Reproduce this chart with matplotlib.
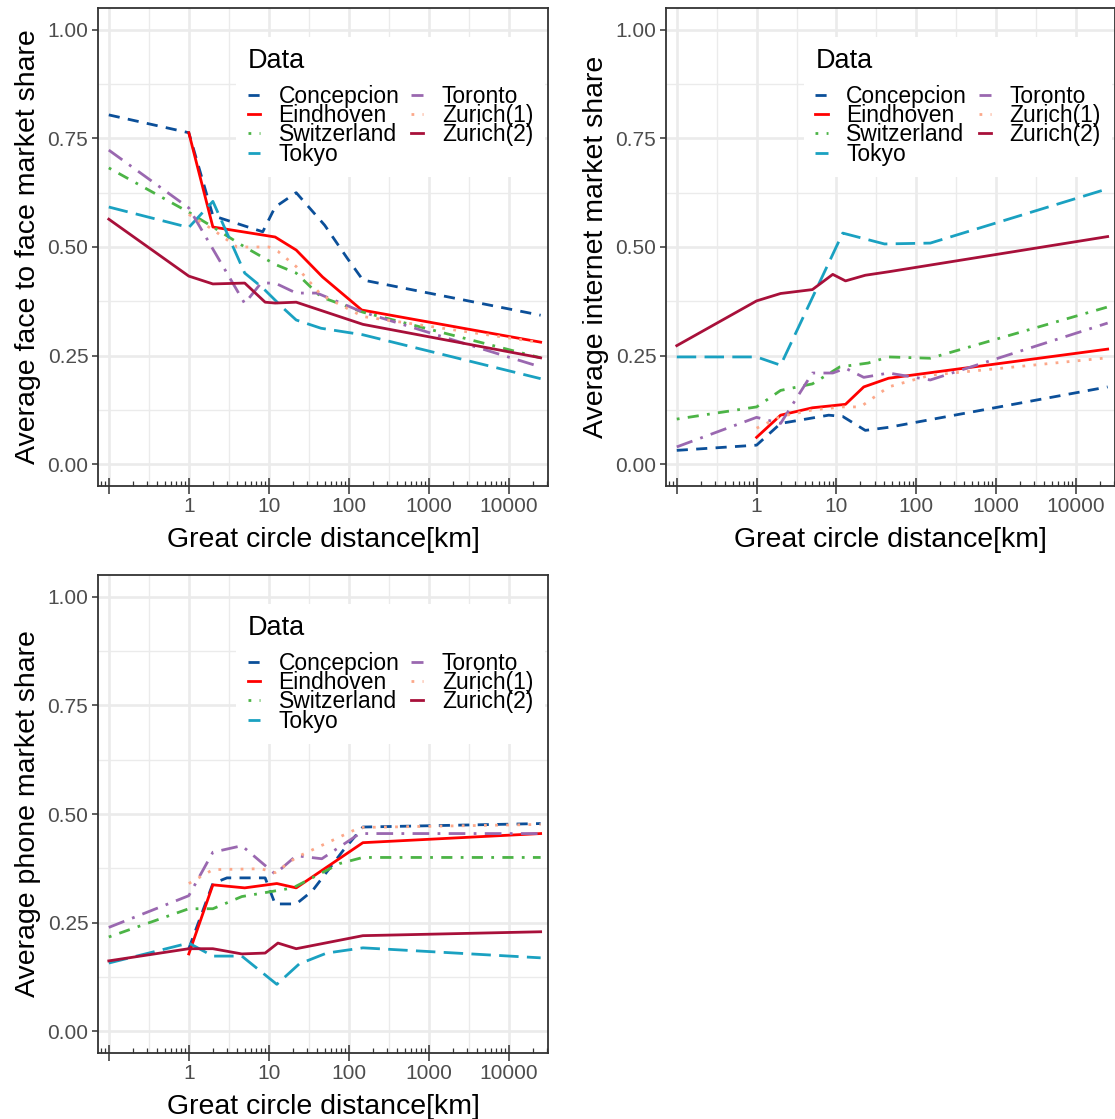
import matplotlib
matplotlib.use('Agg')
import matplotlib.pyplot as plt
from matplotlib.ticker import FixedLocator, LogLocator, NullFormatter, MultipleLocator

plt.rcParams['font.family'] = ['Liberation Sans', 'DejaVu Sans']

cities = ['Concepcion', 'Eindhoven', 'Switzerland', 'Tokyo', 'Toronto', 'Zurich(1)', 'Zurich(2)']

colors = {
    'Concepcion': '#0B4F99',
    'Eindhoven': '#FF0000',
    'Switzerland': '#4CB446',
    'Tokyo': '#1AA1C1',
    'Toronto': '#9A68B0',
    'Zurich(1)': '#FCA88A',
    'Zurich(2)': '#A8103A',
}
dashes = {
    'Concepcion': (0, (4, 3)),
    'Eindhoven': '-',
    'Switzerland': (0, (1, 3, 4, 3)),
    'Tokyo': (0, (7, 3)),
    'Toronto': (0, (6, 3, 1, 3)),
    'Zurich(1)': (0, (1, 3)),
    'Zurich(2)': '-',
}

# face to face
face_dist = {
    'Concepcion': [0.1, 1, 2, 8.4, 12, 22, 50, 95, 150, 25000],
    'Eindhoven': [1, 2, 12, 22, 47, 145, 25000],
    'Switzerland': [0.1, 1, 2, 5, 12, 22, 45, 150, 25000],
    'Tokyo': [0.1, 1, 2, 2.5, 5, 8.5, 15, 22, 45, 150, 25000],
    'Toronto': [0.1, 1, 5, 8, 12, 22, 40, 150, 25000],
    'Zurich(1)': [1, 2, 4, 10, 13, 22, 45, 150, 25000],
    'Zurich(2)': [0.1, 1, 2, 5, 9, 12, 22, 150, 25000],
}
face_share = {
    'Concepcion': [0.804, 0.763, 0.572, 0.535, 0.592, 0.625, 0.55, 0.475, 0.424, 0.343],
    'Eindhoven': [0.763, 0.546, 0.523, 0.493, 0.431, 0.355, 0.281],
    'Switzerland': [0.682, 0.58, 0.546, 0.5, 0.46, 0.44, 0.385, 0.35, 0.245],
    'Tokyo': [0.592, 0.545, 0.605, 0.565, 0.44, 0.405, 0.36, 0.332, 0.313, 0.298, 0.197],
    'Toronto': [0.723, 0.59, 0.37, 0.417, 0.417, 0.394, 0.394, 0.35, 0.224],
    'Zurich(1)': [0.575, 0.54, 0.50, 0.50, 0.49, 0.455, 0.39, 0.34, 0.28],
    'Zurich(2)': [0.564, 0.433, 0.415, 0.417, 0.373, 0.371, 0.373, 0.322, 0.245],
}

# internet
net_dist = {
    'Concepcion': [0.1, 1, 2, 8, 12, 23, 45, 25000],
    'Eindhoven': [1, 2, 5, 13, 22, 45, 25000],
    'Switzerland': [0.1, 1, 2, 5, 11, 25, 45, 150, 25000],
    'Tokyo': [0.1, 1, 2, 12, 40, 150, 25000],
    'Toronto': [0.1, 1, 2, 5, 9, 13, 22, 45, 150, 25000],
    'Zurich(1)': [1, 2, 5, 12, 20, 45, 150, 25000],
    'Zurich(2)': [0.1, 1, 2, 5, 9, 13, 23, 45, 25000],
}
net_share = {
    'Concepcion': [0.032, 0.044, 0.094, 0.113, 0.11, 0.078, 0.085, 0.178],
    'Eindhoven': [0.062, 0.113, 0.13, 0.138, 0.178, 0.198, 0.265],
    'Switzerland': [0.104, 0.132, 0.17, 0.185, 0.224, 0.233, 0.247, 0.244, 0.362],
    'Tokyo': [0.247, 0.247, 0.228, 0.532, 0.507, 0.509, 0.634],
    'Toronto': [0.04, 0.108, 0.094, 0.21, 0.21, 0.221, 0.2, 0.21, 0.194, 0.325],
    'Zurich(1)': [0.083, 0.11, 0.125, 0.132, 0.132, 0.178, 0.205, 0.245],
    'Zurich(2)': [0.273, 0.376, 0.393, 0.402, 0.437, 0.422, 0.435, 0.443, 0.524],
}

# phone
phone_dist = {
    'Concepcion': [1, 2, 3, 9, 12, 22, 35, 85, 150, 25000],
    'Eindhoven': [1, 2, 5, 12.6, 22, 150, 25000],
    'Switzerland': [0.1, 1, 2, 4.6, 12, 20, 77, 150, 25000],
    'Tokyo': [0.1, 1, 2, 4.6, 12.6, 24, 53, 150, 25000],
    'Toronto': [0.1, 1, 2, 4.6, 12, 22, 46, 137, 25000],
    'Zurich(1)': [1, 2, 8, 12, 22, 137, 25000],
    'Zurich(2)': [0.1, 1, 2, 4.6, 9, 13, 22, 150, 25000],
}
phone_share = {
    'Concepcion': [0.19, 0.34, 0.353, 0.353, 0.293, 0.293, 0.323, 0.416, 0.47, 0.478],
    'Eindhoven': [0.178, 0.337, 0.33, 0.34, 0.33, 0.434, 0.455],
    'Switzerland': [0.217, 0.282, 0.282, 0.31, 0.323, 0.33, 0.386, 0.4, 0.4],
    'Tokyo': [0.157, 0.203, 0.173, 0.173, 0.108, 0.155, 0.18, 0.192, 0.169],
    'Toronto': [0.239, 0.312, 0.412, 0.427, 0.362, 0.404, 0.397, 0.455, 0.455],
    'Zurich(1)': [0.34, 0.372, 0.374, 0.365, 0.40, 0.469, 0.476],
    'Zurich(2)': [0.162, 0.19, 0.19, 0.178, 0.18, 0.203, 0.19, 0.22, 0.229],
}

x_ticks = [0.1, 1, 10, 100, 1000, 10000]
x_ticklabels = ['', '1', '10', '100', '1000', '10000']
y_ticks = [0, 0.25, 0.5, 0.75, 1.0]
y_ticklabels = ['0.00', '0.25', '0.50', '0.75', '1.00']

W, H = 1115, 1119
fig = plt.figure(figsize=(W / 100, H / 100), dpi=100)

panels = [
    ([98, 8, 450, 478], face_dist, face_share, 'Average face to face market share'),
    ([666, 8, 449, 478], net_dist, net_share, 'Average internet market share'),
    ([98, 575, 450, 478], phone_dist, phone_share, 'Average phone market share'),
]

grid_col = '#EBEBEB'
edge_col = '#333333'

for (px, py, pw, ph), dist, share, ylabel in panels:
    ax = fig.add_axes([px / W, 1 - (py + ph) / H, pw / W, ph / H])
    ax.set_xscale('log')
    ax.set_xlim(10 ** -1.135, 10 ** 4.49)
    ax.set_ylim(-0.05, 1.05)

    for c in cities:
        ax.plot(dist[c], share[c], color=colors[c], linestyle=dashes[c], lw=2, label=c)

    # grid like theme_bw
    ax.set_axisbelow(True)
    ax.xaxis.set_major_locator(FixedLocator(x_ticks))
    ax.set_xticklabels(x_ticklabels)
    ax.xaxis.set_minor_locator(LogLocator(base=10, subs=range(2, 10)))
    ax.xaxis.set_minor_formatter(NullFormatter())
    ax.yaxis.set_major_locator(FixedLocator(y_ticks))
    ax.set_yticklabels(y_ticklabels)
    ax.yaxis.set_minor_locator(MultipleLocator(0.125))
    ax.grid(which='major', color=grid_col, lw=1.9)
    ax.grid(which='minor', axis='y', color=grid_col, lw=1.0)
    for e in [-1, 0, 1, 2, 3, 4]:
        ax.axvline(10 ** (e + 0.5), color=grid_col, lw=1.0, zorder=0)

    ax.tick_params(axis='x', which='major', direction='inout', length=12, width=1.1,
                   color=edge_col, labelsize=15, labelcolor='#4D4D4D', pad=2)
    ax.tick_params(axis='x', which='minor', direction='in', length=3.5, width=0.9, color=edge_col)
    ax.tick_params(axis='y', which='major', direction='out', length=4, width=1.1,
                   color=edge_col, labelsize=15, labelcolor='#4D4D4D', pad=3)
    ax.tick_params(axis='y', which='minor', length=0)
    for s in ax.spines.values():
        s.set_color(edge_col)
        s.set_linewidth(1.3)

    ax.set_xlabel('Great circle distance[km]', fontsize=20.5, labelpad=8)
    ax.set_ylabel(ylabel, fontsize=20.5, labelpad=4.5)

    leg = ax.legend(ncol=2, loc='upper left', bbox_to_anchor=(0.307, 0.94),
                    title='Data', fontsize=16.5, title_fontsize=19.5,
                    frameon=True, facecolor='white', edgecolor='none', framealpha=1,
                    fancybox=False, handlelength=0.55, handletextpad=0.8,
                    columnspacing=0.5, labelspacing=-0.17, borderaxespad=0,
                    borderpad=0.5, alignment='left')
    leg.get_frame().set_linewidth(0)
    leg._legend_box.sep = 8

fig.savefig('out.png', dpi=100)
